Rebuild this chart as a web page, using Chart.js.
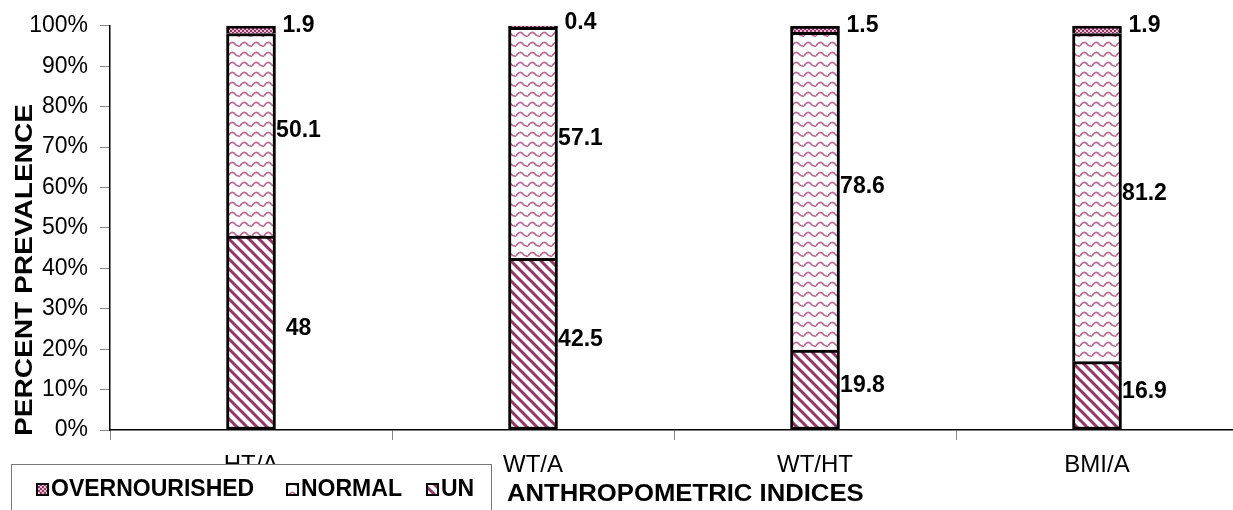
<!DOCTYPE html>
<html>
<head>
<meta charset="utf-8">
<script src="https://cdn.jsdelivr.net/npm/chart.js@4"></script>
<style>
  html, body { margin: 0; padding: 0; background: #fff; overflow: hidden; }
  #wrap { width: 1233px; height: 510px; overflow: hidden; position: relative; }
  #box { width: 1238px; height: 510px; }
</style>
</head>
<body>
<div id="wrap"><div id="box"><canvas id="chart"></canvas></div></div>
<script>
const categories = ['HT/A', 'WT/A', 'WT/HT', 'BMI/A'];
const underValues = [48, 42.5, 19.8, 16.9];
const normalValues = [50.1, 57.1, 78.6, 81.2];
const overValues = [1.9, 0.4, 1.5, 1.9];
const yTicks = [0, 10, 20, 30, 40, 50, 60, 70, 80, 90, 100];

const FONT = '"Liberation Sans", Arial, sans-serif';
const MAROON = '#993366';

function stripePattern() {
  const c = document.createElement('canvas');
  c.width = 10; c.height = 10;
  const g = c.getContext('2d');
  g.fillStyle = '#fff'; g.fillRect(0, 0, 10, 10);
  g.strokeStyle = MAROON; g.lineWidth = 3;
  g.beginPath();
  g.moveTo(-5, -5); g.lineTo(15, 15);
  g.moveTo(-5, 5); g.lineTo(5, 15);
  g.moveTo(5, -5); g.lineTo(15, 5);
  g.stroke();
  return g.createPattern(c, 'repeat');
}

function wavePattern() {
  const c = document.createElement('canvas');
  c.width = 12; c.height = 10;
  const g = c.getContext('2d');
  g.fillStyle = '#fff'; g.fillRect(0, 0, 12, 10);
  g.strokeStyle = '#bd6a95'; g.lineWidth = 1.8;
  g.beginPath();
  g.moveTo(0, 6);
  g.quadraticCurveTo(3, 1, 6, 3);
  g.quadraticCurveTo(9, 7, 12, 6);
  g.stroke();
  return g.createPattern(c, 'repeat');
}

function dotPattern() {
  const c = document.createElement('canvas');
  c.width = 4; c.height = 4;
  const g = c.getContext('2d');
  g.fillStyle = '#e3bfd1'; g.fillRect(0, 0, 4, 4);
  g.fillStyle = MAROON;
  g.fillRect(0, 0, 2, 2);
  g.fillRect(2, 2, 2, 2);
  return g.createPattern(c, 'repeat');
}

// value labels to the right of each segment
const segmentLabels = {
  id: 'segmentLabels',
  afterDatasetsDraw(chart) {
    const ctx = chart.ctx;
    ctx.save();
    ctx.font = 'bold 23px ' + FONT;
    ctx.fillStyle = '#000';
    ctx.textAlign = 'center';
    ctx.textBaseline = 'middle';
    chart.data.datasets.forEach((ds, i) => {
      const meta = chart.getDatasetMeta(i);
      meta.data.forEach((bar, j) => {
        const p = bar.getProps(['x', 'y', 'base', 'width'], true);
        const mid = (p.y + p.base) / 2 - 4;
        ctx.fillText(String(ds.data[j]), p.x + p.width / 2 + 23, mid);
      });
    });
    ctx.restore();
  }
};

// axis titles and legend box
const extras = {
  id: 'extras',
  afterDraw(chart) {
    const ctx = chart.ctx;
    ctx.save();
    ctx.fillStyle = '#000';
    ctx.font = 'bold 24px ' + FONT;

    // y title (glyphs stretched along the text, as in the source)
    ctx.save();
    ctx.translate(25, 270);
    ctx.rotate(-Math.PI / 2);
    ctx.scale(1.17, 1);
    ctx.textAlign = 'center';
    ctx.textBaseline = 'middle';
    ctx.fillText('PERCENT PREVALENCE', 0, 0);
    ctx.restore();

    // x title
    ctx.save();
    ctx.translate(507, 494);
    ctx.scale(1.07, 1);
    ctx.textAlign = 'left';
    ctx.textBaseline = 'middle';
    ctx.fillText('ANTHROPOMETRIC INDICES', 0, 0);
    ctx.restore();

    // legend
    ctx.fillStyle = '#fff';
    ctx.fillRect(12, 464, 480, 50);
    ctx.strokeStyle = '#777';
    ctx.lineWidth = 1;
    ctx.strokeRect(11.5, 464.5, 480, 50);

    const items = [
      { text: 'OVERNOURISHED', fill: chart.data.datasets[2].backgroundColor, x: 36 },
      { text: 'NORMAL', fill: chart.data.datasets[1].backgroundColor, x: 286 },
      { text: 'UN', fill: chart.data.datasets[0].backgroundColor, x: 426 }
    ];
    items.forEach(it => {
      ctx.fillStyle = it.fill;
      ctx.fillRect(it.x, 483, 12, 12);
      ctx.strokeStyle = '#000';
      ctx.lineWidth = 2;
      ctx.strokeRect(it.x + 1, 484, 11, 11);
      ctx.fillStyle = '#000';
      ctx.font = 'bold 23px ' + FONT;
      ctx.textBaseline = 'middle';
      ctx.fillText(it.text, it.x + 15, 490);
    });
    ctx.restore();
  }
};

const fullBorder = 3;
const openBottom = { top: 3, left: 3, right: 3, bottom: 0 };

new Chart(document.getElementById('chart'), {
  type: 'bar',
  data: {
    labels: categories,
    datasets: [
      { label: 'UN', data: underValues, backgroundColor: stripePattern(), borderWidth: fullBorder },
      { label: 'NORMAL', data: normalValues, backgroundColor: wavePattern(), borderWidth: openBottom },
      { label: 'OVERNOURISHED', data: overValues, backgroundColor: dotPattern(), borderWidth: openBottom }
    ]
  },
  options: {
    responsive: true,
    maintainAspectRatio: false,
    animation: false,
    layout: { padding: { top: 24, left: 0, right: 0, bottom: 0 } },
    datasets: {
      bar: {
        barThickness: 49,
        borderColor: '#000',
        borderSkipped: false
      }
    },
    scales: {
      x: {
        stacked: true,
        offset: true,
        afterFit: s => { s.height = 80; },
        grid: { drawOnChartArea: false, offset: true, tickLength: 10, color: '#888' },
        border: { color: '#000', width: 1.5 },
        ticks: { color: '#000', font: { family: FONT, size: 24 }, padding: 11 }
      },
      y: {
        stacked: true,
        min: 0,
        max: 100,
        afterFit: s => { s.width = 110; },
        afterBuildTicks: s => { s.ticks = yTicks.map(v => ({ value: v })); },
        grid: { drawOnChartArea: false, tickLength: 10, color: '#888' },
        border: { color: '#000', width: 1.5 },
        ticks: {
          color: '#000',
          font: { family: FONT, size: 23 },
          padding: 12,
          callback: v => v + '%'
        }
      }
    },
    plugins: {
      legend: { display: false },
      tooltip: { enabled: false }
    }
  },
  plugins: [segmentLabels, extras]
});
</script>
</body>
</html>
